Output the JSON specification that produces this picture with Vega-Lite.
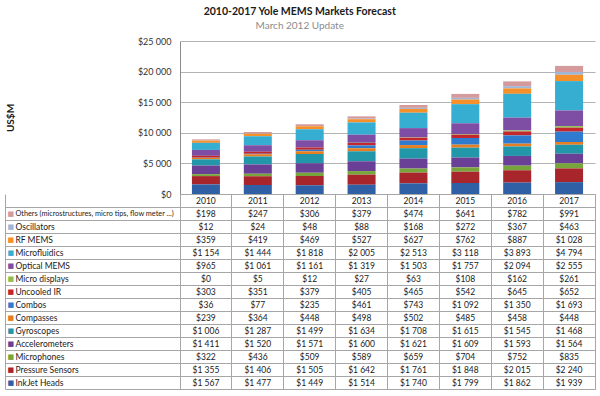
{
  "$schema": "https://vega.github.io/schema/vega-lite/v6.json",
  "padding": {"left": 4, "top": 6, "right": 6, "bottom": 6},
  "background": "white",
  "bounds": "flush",
  "title": {
    "text": "2010-2017 Yole MEMS Markets Forecast",
    "subtitle": "March 2012 Update",
    "anchor": "middle",
    "font": "Lato",
    "fontSize": 10.5,
    "fontWeight": "bold",
    "color": "#1a1a1a",
    "subtitleFont": "Lato",
    "subtitleFontSize": 10,
    "subtitleColor": "#8c8c8c",
    "subtitlePadding": 4,
    "offset": 6
  },
  "config": {
    "locale": {"number": {"decimal": ".", "thousands": " ", "grouping": [3], "currency": ["$", ""]}},
    "concat": {"spacing": 0}
  },
  "spacing": 0,
  "datasets": {
    "mems": [
      {"year": "2010", "series": "Others (microstructures, micro tips, flow meter ...)", "value": 198},
      {"year": "2011", "series": "Others (microstructures, micro tips, flow meter ...)", "value": 247},
      {"year": "2012", "series": "Others (microstructures, micro tips, flow meter ...)", "value": 306},
      {"year": "2013", "series": "Others (microstructures, micro tips, flow meter ...)", "value": 379},
      {"year": "2014", "series": "Others (microstructures, micro tips, flow meter ...)", "value": 474},
      {"year": "2015", "series": "Others (microstructures, micro tips, flow meter ...)", "value": 641},
      {"year": "2016", "series": "Others (microstructures, micro tips, flow meter ...)", "value": 782},
      {"year": "2017", "series": "Others (microstructures, micro tips, flow meter ...)", "value": 991},
      {"year": "2010", "series": "Oscillators", "value": 12},
      {"year": "2011", "series": "Oscillators", "value": 24},
      {"year": "2012", "series": "Oscillators", "value": 48},
      {"year": "2013", "series": "Oscillators", "value": 88},
      {"year": "2014", "series": "Oscillators", "value": 168},
      {"year": "2015", "series": "Oscillators", "value": 272},
      {"year": "2016", "series": "Oscillators", "value": 367},
      {"year": "2017", "series": "Oscillators", "value": 463},
      {"year": "2010", "series": "RF MEMS", "value": 359},
      {"year": "2011", "series": "RF MEMS", "value": 419},
      {"year": "2012", "series": "RF MEMS", "value": 469},
      {"year": "2013", "series": "RF MEMS", "value": 527},
      {"year": "2014", "series": "RF MEMS", "value": 627},
      {"year": "2015", "series": "RF MEMS", "value": 762},
      {"year": "2016", "series": "RF MEMS", "value": 887},
      {"year": "2017", "series": "RF MEMS", "value": 1028},
      {"year": "2010", "series": "Microfluidics", "value": 1154},
      {"year": "2011", "series": "Microfluidics", "value": 1444},
      {"year": "2012", "series": "Microfluidics", "value": 1818},
      {"year": "2013", "series": "Microfluidics", "value": 2005},
      {"year": "2014", "series": "Microfluidics", "value": 2513},
      {"year": "2015", "series": "Microfluidics", "value": 3118},
      {"year": "2016", "series": "Microfluidics", "value": 3893},
      {"year": "2017", "series": "Microfluidics", "value": 4794},
      {"year": "2010", "series": "Optical MEMS", "value": 965},
      {"year": "2011", "series": "Optical MEMS", "value": 1061},
      {"year": "2012", "series": "Optical MEMS", "value": 1161},
      {"year": "2013", "series": "Optical MEMS", "value": 1319},
      {"year": "2014", "series": "Optical MEMS", "value": 1503},
      {"year": "2015", "series": "Optical MEMS", "value": 1757},
      {"year": "2016", "series": "Optical MEMS", "value": 2094},
      {"year": "2017", "series": "Optical MEMS", "value": 2555},
      {"year": "2010", "series": "Micro displays", "value": 0},
      {"year": "2011", "series": "Micro displays", "value": 5},
      {"year": "2012", "series": "Micro displays", "value": 12},
      {"year": "2013", "series": "Micro displays", "value": 27},
      {"year": "2014", "series": "Micro displays", "value": 63},
      {"year": "2015", "series": "Micro displays", "value": 108},
      {"year": "2016", "series": "Micro displays", "value": 162},
      {"year": "2017", "series": "Micro displays", "value": 261},
      {"year": "2010", "series": "Uncooled IR", "value": 303},
      {"year": "2011", "series": "Uncooled IR", "value": 351},
      {"year": "2012", "series": "Uncooled IR", "value": 379},
      {"year": "2013", "series": "Uncooled IR", "value": 405},
      {"year": "2014", "series": "Uncooled IR", "value": 465},
      {"year": "2015", "series": "Uncooled IR", "value": 542},
      {"year": "2016", "series": "Uncooled IR", "value": 645},
      {"year": "2017", "series": "Uncooled IR", "value": 652},
      {"year": "2010", "series": "Combos", "value": 36},
      {"year": "2011", "series": "Combos", "value": 77},
      {"year": "2012", "series": "Combos", "value": 235},
      {"year": "2013", "series": "Combos", "value": 461},
      {"year": "2014", "series": "Combos", "value": 743},
      {"year": "2015", "series": "Combos", "value": 1092},
      {"year": "2016", "series": "Combos", "value": 1350},
      {"year": "2017", "series": "Combos", "value": 1693},
      {"year": "2010", "series": "Compasses", "value": 239},
      {"year": "2011", "series": "Compasses", "value": 364},
      {"year": "2012", "series": "Compasses", "value": 448},
      {"year": "2013", "series": "Compasses", "value": 498},
      {"year": "2014", "series": "Compasses", "value": 502},
      {"year": "2015", "series": "Compasses", "value": 485},
      {"year": "2016", "series": "Compasses", "value": 458},
      {"year": "2017", "series": "Compasses", "value": 448},
      {"year": "2010", "series": "Gyroscopes", "value": 1006},
      {"year": "2011", "series": "Gyroscopes", "value": 1287},
      {"year": "2012", "series": "Gyroscopes", "value": 1499},
      {"year": "2013", "series": "Gyroscopes", "value": 1634},
      {"year": "2014", "series": "Gyroscopes", "value": 1708},
      {"year": "2015", "series": "Gyroscopes", "value": 1615},
      {"year": "2016", "series": "Gyroscopes", "value": 1545},
      {"year": "2017", "series": "Gyroscopes", "value": 1468},
      {"year": "2010", "series": "Accelerometers", "value": 1411},
      {"year": "2011", "series": "Accelerometers", "value": 1520},
      {"year": "2012", "series": "Accelerometers", "value": 1571},
      {"year": "2013", "series": "Accelerometers", "value": 1600},
      {"year": "2014", "series": "Accelerometers", "value": 1621},
      {"year": "2015", "series": "Accelerometers", "value": 1609},
      {"year": "2016", "series": "Accelerometers", "value": 1593},
      {"year": "2017", "series": "Accelerometers", "value": 1564},
      {"year": "2010", "series": "Microphones", "value": 322},
      {"year": "2011", "series": "Microphones", "value": 436},
      {"year": "2012", "series": "Microphones", "value": 509},
      {"year": "2013", "series": "Microphones", "value": 589},
      {"year": "2014", "series": "Microphones", "value": 659},
      {"year": "2015", "series": "Microphones", "value": 704},
      {"year": "2016", "series": "Microphones", "value": 752},
      {"year": "2017", "series": "Microphones", "value": 835},
      {"year": "2010", "series": "Pressure Sensors", "value": 1355},
      {"year": "2011", "series": "Pressure Sensors", "value": 1406},
      {"year": "2012", "series": "Pressure Sensors", "value": 1505},
      {"year": "2013", "series": "Pressure Sensors", "value": 1642},
      {"year": "2014", "series": "Pressure Sensors", "value": 1761},
      {"year": "2015", "series": "Pressure Sensors", "value": 1848},
      {"year": "2016", "series": "Pressure Sensors", "value": 2015},
      {"year": "2017", "series": "Pressure Sensors", "value": 2240},
      {"year": "2010", "series": "InkJet Heads", "value": 1567},
      {"year": "2011", "series": "InkJet Heads", "value": 1477},
      {"year": "2012", "series": "InkJet Heads", "value": 1449},
      {"year": "2013", "series": "InkJet Heads", "value": 1514},
      {"year": "2014", "series": "InkJet Heads", "value": 1740},
      {"year": "2015", "series": "InkJet Heads", "value": 1799},
      {"year": "2016", "series": "InkJet Heads", "value": 1862},
      {"year": "2017", "series": "InkJet Heads", "value": 1939}
    ]
  },
  "vconcat": [
    {
      "data": {"name": "mems"},
      "transform": [
        {"calculate": "indexof(['InkJet Heads', 'Pressure Sensors', 'Microphones', 'Accelerometers', 'Gyroscopes', 'Compasses', 'Combos', 'Uncooled IR', 'Micro displays', 'Optical MEMS', 'Microfluidics', 'RF MEMS', 'Oscillators', 'Others (microstructures, micro tips, flow meter ...)'], datum.series)", "as": "stackOrder"}
      ],
      "width": 415,
      "height": 153,
      "view": {"stroke": null},
      "mark": {"type": "bar"},
      "encoding": {
        "x": {"field": "year", "type": "ordinal", "axis": null, "scale": {"type": "band", "paddingInner": 0.46, "paddingOuter": 0.23}},
        "y": {
          "field": "value", "type": "quantitative", "stack": "zero",
          "scale": {"domain": [0, 25000], "nice": false},
          "axis": {
            "values": [0, 5000, 10000, 15000, 20000, 25000],
            "format": "$,d",
            "title": "US$M",
            "titleFont": "Lato", "titleFontSize": 10, "titleFontWeight": "bold", "titleColor": "#1a1a1a",
            "titlePadding": 122,
            "labelFont": "Lato", "labelFontSize": 9, "labelColor": "#333333", "labelPadding": 9,
            "ticks": false,
            "domainColor": "#8c8c8c",
            "gridColor": "#b3b3b3"
          }
        },
        "order": {"field": "stackOrder", "type": "quantitative", "sort": "ascending"},
        "color": {
          "field": "series", "type": "nominal",
          "scale": {
            "domain": ["Others (microstructures, micro tips, flow meter ...)", "Oscillators", "RF MEMS", "Microfluidics", "Optical MEMS", "Micro displays", "Uncooled IR", "Combos", "Compasses", "Gyroscopes", "Accelerometers", "Microphones", "Pressure Sensors", "InkJet Heads"],
            "range": ["#d59a9c", "#9fb6d9", "#f5902a", "#35aed2", "#7d4ea3", "#8cc152", "#c1272d", "#2f7bd0", "#e67e22", "#2297aa", "#6a3f96", "#77a43b", "#a8262b", "#2f60a5"]
          },
          "legend": null
        }
      }
    },
    {
      "data": {"name": "mems"},
      "width": 415,
      "height": 195,
      "view": {"stroke": "#a6a6a6"},
      "resolve": {"axis": {"y": "independent"}},
      "layer": [
        {
          "mark": {"type": "text", "font": "Lato", "fontSize": 8.5, "color": "#1a1a1a"},
          "encoding": {
            "x": {"field": "year", "type": "ordinal", "scale": {"type": "band", "padding": 0},
              "axis": {"grid": true, "bandPosition": 0, "labels": false, "ticks": false, "domain": false, "title": null, "gridColor": "#a6a6a6"}},
            "y": {"field": "series", "type": "nominal",
              "scale": {"type": "band", "domain": ["header", "Others (microstructures, micro tips, flow meter ...)", "Oscillators", "RF MEMS", "Microfluidics", "Optical MEMS", "Micro displays", "Uncooled IR", "Combos", "Compasses", "Gyroscopes", "Accelerometers", "Microphones", "Pressure Sensors", "InkJet Heads"], "padding": 0},
              "axis": {
                "orient": "left", "title": null, "domain": false,
                "grid": true, "gridColor": "#a6a6a6",
                "bandPosition": 1,
                "ticks": true, "tickSize": 175, "tickColor": "#a6a6a6",
                "labelAlign": "left", "labelBaseline": "middle",
                "labelPadding": -10,
                "labelFont": "Lato", "labelColor": "#1a1a1a",
                "labelFontSize": {"condition": {"test": "indexof(datum.value, 'Others') === 0", "value": 7.3}, "value": 8.5},
                "labelLimit": 200, "labelOverlap": false, "labelBound": false,
                "labelExpr": "datum.value === 'header' ? '' : datum.value"
              }
            },
            "text": {"field": "value", "type": "quantitative", "format": "$,d"}
          }
        },
        {
          "mark": {"type": "text"},
          "encoding": {
            "y": {"field": "series", "type": "nominal",
              "scale": {"type": "band", "domain": ["header", "Others (microstructures, micro tips, flow meter ...)", "Oscillators", "RF MEMS", "Microfluidics", "Optical MEMS", "Micro displays", "Uncooled IR", "Combos", "Compasses", "Gyroscopes", "Accelerometers", "Microphones", "Pressure Sensors", "InkJet Heads"], "padding": 0},
              "axis": {
                "orient": "left", "offset": 175, "title": null,
                "domain": true, "domainColor": "#a6a6a6",
                "ticks": false, "grid": false,
                "labelAlign": "left", "labelBaseline": "middle", "labelPadding": -2,
                "labelFont": "DejaVu Sans", "labelFontSize": 7,
                "labelOverlap": false, "labelBound": false,
                "labelExpr": "datum.value === 'header' ? '' : '■'",
                "labelColor": {
                  "condition": [
                    {"test": "datum.value === 'Others (microstructures, micro tips, flow meter ...)'", "value": "#d59a9c"},
                    {"test": "datum.value === 'Oscillators'", "value": "#9fb6d9"},
                    {"test": "datum.value === 'RF MEMS'", "value": "#f5902a"},
                    {"test": "datum.value === 'Microfluidics'", "value": "#35aed2"},
                    {"test": "datum.value === 'Optical MEMS'", "value": "#7d4ea3"},
                    {"test": "datum.value === 'Micro displays'", "value": "#8cc152"},
                    {"test": "datum.value === 'Uncooled IR'", "value": "#c1272d"},
                    {"test": "datum.value === 'Combos'", "value": "#2f7bd0"},
                    {"test": "datum.value === 'Compasses'", "value": "#e67e22"},
                    {"test": "datum.value === 'Gyroscopes'", "value": "#2297aa"},
                    {"test": "datum.value === 'Accelerometers'", "value": "#6a3f96"},
                    {"test": "datum.value === 'Microphones'", "value": "#77a43b"},
                    {"test": "datum.value === 'Pressure Sensors'", "value": "#a8262b"}
                  ],
                  "value": "#2f60a5"
                }
              }
            },
            "text": {"value": ""}
          }
        },
        {
          "transform": [{"filter": "datum.series === 'InkJet Heads'"}],
          "mark": {"type": "text", "font": "Lato", "fontSize": 8.5, "color": "#1a1a1a"},
          "encoding": {
            "x": {"field": "year", "type": "ordinal", "scale": {"type": "band", "padding": 0}},
            "y": {"datum": "header", "type": "nominal", "axis": null},
            "text": {"field": "year", "type": "nominal"}
          }
        }
      ]
    }
  ]
}
